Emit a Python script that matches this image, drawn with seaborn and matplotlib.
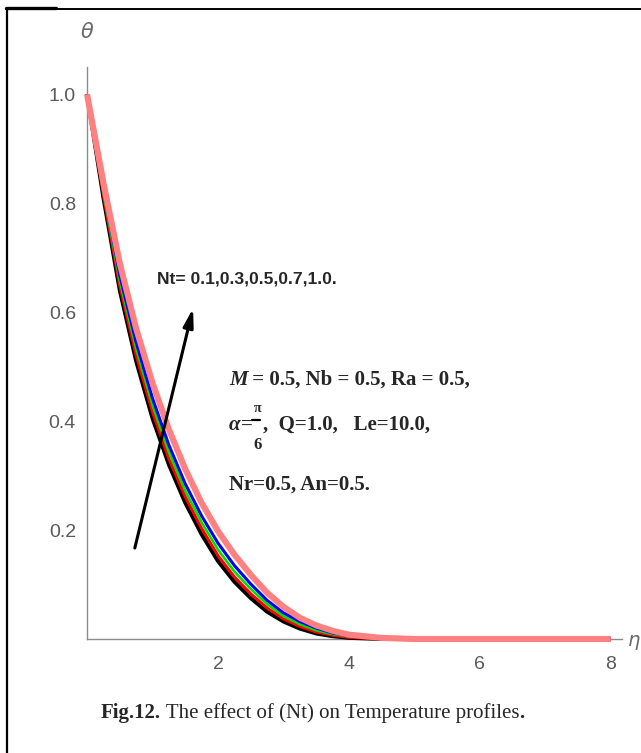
import matplotlib
matplotlib.use("Agg")
import matplotlib.pyplot as plt
from matplotlib import font_manager
from matplotlib.lines import Line2D
from matplotlib.ticker import FixedLocator, MultipleLocator
import pandas as pd
import seaborn as sns

# ---- data -------------------------------------------------------------
eta = [0, 0.25, 0.5, 0.75, 1.0, 1.25, 1.5, 1.75, 2.0, 2.25, 2.5, 2.75,
       3.0, 3.25, 3.5, 3.75, 4.0, 4.5, 5.0, 6.0, 7.0, 8.0]
theta_nt01 = [1.0, 0.81, 0.64, 0.51, 0.405, 0.32, 0.25, 0.192, 0.143, 0.105, 0.075, 0.050,
              0.032, 0.019, 0.010, 0.005, 0.002, 0.0, 0.0, 0.0, 0.0, 0.0]
theta_nt03 = [1.0, 0.816, 0.649, 0.521, 0.417, 0.331, 0.261, 0.203, 0.153, 0.114, 0.083, 0.057,
              0.037, 0.023, 0.013, 0.007, 0.003, 0.0, 0.0, 0.0, 0.0, 0.0]
theta_nt05 = [1.0, 0.821, 0.658, 0.533, 0.429, 0.343, 0.272, 0.214, 0.164, 0.124, 0.092, 0.064,
              0.042, 0.027, 0.016, 0.009, 0.005, 0.001, 0.0, 0.0, 0.0, 0.0]
theta_nt07 = [1.0, 0.828, 0.668, 0.545, 0.442, 0.356, 0.285, 0.226, 0.176, 0.135, 0.101, 0.071,
              0.048, 0.032, 0.020, 0.011, 0.006, 0.001, 0.0, 0.0, 0.0, 0.0]
theta_nt10 = [1.0, 0.838, 0.69, 0.57, 0.47, 0.385, 0.312, 0.25, 0.198, 0.155, 0.118, 0.085,
              0.059, 0.039, 0.025, 0.015, 0.008, 0.002, 0.0, 0.0, 0.0, 0.0]

nt_values = ["0.1", "0.3", "0.5", "0.7", "1.0"]
series = [theta_nt01, theta_nt03, theta_nt05, theta_nt07, theta_nt10]
line_colors = ["#000000", "#ff0000", "#00e000", "#0000ff", "#ff8080"]
line_widths = [2.8, 2.2, 1.9, 2.2, 4.4]

x_ticks = [2, 4, 6, 8]
y_ticks = [0.2, 0.4, 0.6, 0.8, 1.0]

df = pd.DataFrame({
    "eta": eta * len(series),
    "theta": [v for s in series for v in s],
    "Nt": [nt for nt, s in zip(nt_values, series) for _ in s],
})

# ---- fonts ------------------------------------------------------------
sns.set_style("white")
available = {f.name for f in font_manager.fontManager.ttflist}
narrow = "Liberation Sans Narrow" if "Liberation Sans Narrow" in available else "Liberation Sans"
serif = "Liberation Serif"
plt.rcParams["font.family"] = [narrow, "DejaVu Sans"]
plt.rcParams["mathtext.fontset"] = "dejavusans"

W, H = 641, 753
fig = plt.figure(figsize=(W / 100, H / 100), dpi=100)
fig.patch.set_facecolor("white")

def px(x, y):
    """pixel (from top-left) -> figure fraction"""
    return x / W, 1 - y / H

x0, y0 = px(87, 639)
x1, y1 = px(622, 67)
ax = fig.add_axes([x0, y0, x1 - x0, y1 - y0])
ax.set_facecolor("white")

for nt, col, lw in zip(nt_values, line_colors, line_widths):
    sns.lineplot(data=df[df["Nt"] == nt], x="eta", y="theta", color=col,
                 linewidth=lw, ax=ax, clip_on=False, legend=False,
                 solid_joinstyle="round", solid_capstyle="butt")

ax.set_xlim(0, 8.17)
ax.set_ylim(0, 1.05)
ax.set_xlabel("")
ax.set_ylabel("")

axis_gray = "#8c8c8c"
for side in ["top", "right"]:
    ax.spines[side].set_visible(False)
for side in ["left", "bottom"]:
    ax.spines[side].set_color(axis_gray)
    ax.spines[side].set_linewidth(1.0)
    ax.spines[side].set_zorder(0.5)

ax.xaxis.set_major_locator(FixedLocator(x_ticks))
ax.yaxis.set_major_locator(FixedLocator(y_ticks))
ax.xaxis.set_minor_locator(MultipleLocator(0.5))
ax.yaxis.set_minor_locator(MultipleLocator(0.05))
ax.set_xticklabels([str(v) for v in x_ticks])
ax.set_yticklabels([f"{v:.1f}" for v in y_ticks])
ax.tick_params(axis="both", which="major", direction="in", length=7, width=1.0,
               color=axis_gray, labelcolor="#5a5a5a", labelsize=14)
ax.tick_params(axis="both", which="minor", direction="in", length=4, width=0.9,
               color=axis_gray)
ax.tick_params(axis="x", which="major", pad=12)
ax.tick_params(axis="y", which="major", pad=8)

# axis names
fig.text(*px(87, 32), r"$\theta$", color="#6a6a6a", fontsize=15,
         ha="center", va="center")
fig.text(*px(627, 642), r"$\eta$", color="#6a6a6a", fontsize=14,
         ha="left", va="center")

# arrow showing increasing Nt
ax.annotate("", xy=(1.62, 0.607), xytext=(0.73, 0.167),
            arrowprops=dict(arrowstyle="-|>,head_length=1.1,head_width=0.3",
                            color="black", lw=2.2, shrinkA=0, shrinkB=0))

fig.text(*px(157, 279), "Nt= 0.1,0.3,0.5,0.7,1.0.", family=[narrow, "DejaVu Sans"],
         fontsize=12.6, fontweight="bold", ha="left", va="center")

fig.canvas.draw()
renderer = fig.canvas.get_renderer()

def run(x_px, y_px, pieces):
    """draw consecutive text pieces left to right on one baseline"""
    fx, fy = px(x_px, y_px)
    for text, kw in pieces:
        t = fig.text(fx, fy, text, ha="left", va="baseline", **kw)
        bb = t.get_window_extent(renderer)
        fx = bb.x1 / W
    return fx

bold = dict(family=[serif, "DejaVu Serif"], fontsize=15, fontweight="bold")
bold_it = dict(family=[serif, "DejaVu Serif"], fontsize=15, fontweight="bold", style="italic")

run(229, 385, [("M", bold_it), (" = 0.5, Nb = 0.5, Ra = 0.5,", bold)])
xe = run(229, 430, [("α", bold_it), ("=", bold)])
# small fraction π/6
xe_px = xe * W
fig.text(xe + 1 / W, 1 - 409 / H, "π", ha="left", va="center",
         family=[serif, "DejaVu Serif"], fontsize=10, fontweight="bold")
fig.add_artist(Line2D([xe, xe + 8 / W], [1 - 420 / H, 1 - 420 / H],
                      color="black", lw=1.6, transform=fig.transFigure))
fig.text(xe + 1 / W, 1 - 445 / H, "6", ha="left", va="center",
         family=[serif, "DejaVu Serif"], fontsize=12, fontweight="bold")
run(xe_px + 11, 430, [(",  Q=1.0,   Le=10.0,", bold)])
run(229, 490, [("Nr=0.5, An=0.5.", bold)])

# caption
cap_r = dict(family=[serif, "DejaVu Serif"], fontsize=15)
cap_b = dict(family=[serif, "DejaVu Serif"], fontsize=15, fontweight="bold")
run(101, 718, [("Fig.12.", cap_b), (" The effect of (Nt) on Temperature profiles", cap_r),
               (".", cap_b)])

# frame around the figure panel
fig.add_artist(Line2D([7 / W, 7 / W], [0, 1 - 8 / H], color="black", lw=1.6,
                      transform=fig.transFigure))
fig.add_artist(Line2D([6 / W, 1], [1 - 8.5 / H, 1 - 8.5 / H], color="black", lw=1.4,
                      transform=fig.transFigure))
fig.add_artist(Line2D([6 / W, 56 / W], [1 - 8 / H, 1 - 8 / H], color="black", lw=2.4,
                      transform=fig.transFigure))

fig.savefig("out.png", dpi=100, facecolor="white")
